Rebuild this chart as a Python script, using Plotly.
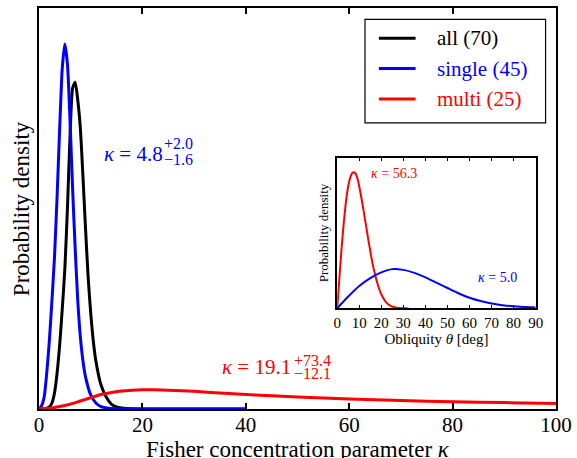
import plotly.graph_objects as go

# Posterior densities of the Fisher concentration parameter kappa
kappa_single = [0, 0.5, 1.0, 1.5, 2.0, 2.5, 3.0, 3.5, 4.0, 4.5, 5.0, 5.5, 6.0, 6.5, 7.0,
                7.5, 8.0, 8.5, 9.0, 10.0, 11.0, 12.0, 14.0, 20.0, 40.0]
dens_single = [0.0, 0.008, 0.03, 0.09, 0.17, 0.27, 0.38, 0.53, 0.70, 0.85, 0.91, 0.86,
               0.72, 0.55, 0.40, 0.27, 0.18, 0.12, 0.08, 0.035, 0.015, 0.006, 0.001, 0.0, 0.0]

kappa_all = [0, 1.0, 2.0, 2.5, 3.0, 3.5, 4.0, 4.5, 5.0, 5.5, 6.0, 6.5, 7.0, 7.5, 8.0, 8.5,
             9.0, 9.5, 10.0, 10.5, 11.0, 12.0, 13.0, 14.0, 15.0, 17.0, 20.0, 40.0]
dens_all = [0.0, 0.0, 0.005, 0.015, 0.04, 0.09, 0.16, 0.25, 0.35, 0.50, 0.68, 0.80, 0.815,
            0.77, 0.70, 0.58, 0.45, 0.33, 0.24, 0.17, 0.12, 0.06, 0.03, 0.012, 0.005, 0.001,
            0.0, 0.0]

kappa_multi = [0, 2, 4, 6, 8, 10, 12, 14, 16, 18, 20, 22, 25, 30, 35, 40, 50, 60, 70, 80, 90, 100]
dens_multi = [0.0, 0.002, 0.006, 0.012, 0.020, 0.028, 0.036, 0.041, 0.045, 0.047, 0.048,
              0.048, 0.047, 0.044, 0.040, 0.036, 0.030, 0.025, 0.021, 0.018, 0.016, 0.014]

# Obliquity distributions for the two median concentrations
theta_multi = [0, 1, 2, 3, 4, 5, 6, 7, 8, 9, 10, 11, 12, 13, 14, 15, 16, 17, 18, 19, 20,
               22, 24, 26, 28, 30, 32]
obl_multi = [0.0, 0.2, 0.40, 0.57, 0.71, 0.81, 0.87, 0.90, 0.90, 0.87, 0.81, 0.73, 0.645,
             0.555, 0.465, 0.38, 0.30, 0.235, 0.178, 0.13, 0.093, 0.043, 0.018, 0.007,
             0.002, 0.0005, 0.0]
theta_single = [0, 5, 10, 15, 20, 25, 30, 35, 40, 45, 50, 55, 60, 65, 70, 75, 80, 85, 90]
obl_single = [0.0, 0.078, 0.148, 0.20, 0.238, 0.26, 0.255, 0.235, 0.205, 0.17, 0.135, 0.10,
              0.07, 0.048, 0.032, 0.021, 0.013, 0.009, 0.006]

series_names = ["all (70)", "single (45)", "multi (25)"]
series_colors = ["black", "blue", "red"]

kappa_single_label = ("4.8", "+2.0", "\u22121.6")
kappa_multi_label = ("19.1", "+73.4", "\u221212.1")
inset_labels = ("56.3", "5.0")

SERIF = "Liberation Serif"

# plot area in pixels (used to place the legend box)
L, R, T, B = 38.5, 559.5, 5.5, 409.0


def px(xp):
    return (xp - L) / (R - L)


def py(yp):
    return (B - yp) / (B - T)


fig = go.Figure()

main_curves = [(kappa_all, dens_all), (kappa_single, dens_single), (kappa_multi, dens_multi)]
for (kx, ky), name, col in zip(main_curves, series_names, series_colors):
    fig.add_trace(go.Scatter(
        x=kx, y=ky, mode="lines", line=dict(color=col, width=3, shape="spline", smoothing=0.6),
        name=name, showlegend=False, xaxis="x", yaxis="y",
    ))

fig.add_trace(go.Scatter(x=theta_multi, y=obl_multi, mode="lines",
                         line=dict(color="red", width=2, shape="spline", smoothing=0.6),
                         showlegend=False, xaxis="x2", yaxis="y2"))
fig.add_trace(go.Scatter(x=theta_single, y=obl_single, mode="lines",
                         line=dict(color="blue", width=2, shape="spline", smoothing=0.6),
                         showlegend=False, xaxis="x2", yaxis="y2"))

annotations = []
shapes = []


def kappa_annotation(x, y, parts, color, size, script_size, dx_sup, dy_up, dy_lo):
    val, up, lo = parts
    annotations.append(dict(x=x, y=y, xref="x", yref="y", xanchor="left", yanchor="middle",
                            text=f"<i>\u03ba</i> = {val}", showarrow=False,
                            font=dict(family=SERIF, size=size, color=color)))
    annotations.append(dict(x=x + dx_sup, y=y + dy_up, xref="x", yref="y", xanchor="left",
                            yanchor="middle", text=up, showarrow=False,
                            font=dict(family=SERIF, size=script_size, color=color)))
    annotations.append(dict(x=x + dx_sup, y=y - dy_lo, xref="x", yref="y", xanchor="left",
                            yanchor="middle", text=lo, showarrow=False,
                            font=dict(family=SERIF, size=script_size, color=color)))


kappa_annotation(12.2, 0.637, kappa_single_label, "blue", 21, 16, 11.5, 0.024, 0.016)
kappa_annotation(35.0, 0.105, kappa_multi_label, "red", 21, 16, 14.0, 0.016, 0.017)

annotations.append(dict(x=14.5, y=0.895, xref="x2", yref="y2", xanchor="left", yanchor="middle",
                        text=f"<i>\u03ba</i> = {inset_labels[0]}", showarrow=False,
                        font=dict(family=SERIF, size=14, color="red")))
annotations.append(dict(x=63.0, y=0.202, xref="x2", yref="y2", xanchor="left", yanchor="middle",
                        text=f"<i>\u03ba</i> = {inset_labels[1]}", showarrow=False,
                        font=dict(family=SERIF, size=14, color="blue")))

# legend box
shapes.append(dict(type="rect", xref="paper", yref="paper", x0=px(367), x1=px(549),
                   y0=py(121), y1=py(17), line=dict(color="black", width=1.2),
                   fillcolor="white", layer="above"))
for i, (name, col) in enumerate(zip(series_names, series_colors)):
    row = 36 + 30.5 * i
    shapes.append(dict(type="line", xref="paper", yref="paper", x0=px(381), x1=px(418),
                       y0=py(row), y1=py(row), line=dict(color=col, width=3), layer="above"))
    annotations.append(dict(x=px(438), y=py(row), xref="paper", yref="paper", xanchor="left",
                            yanchor="middle", text=name, showarrow=False,
                            font=dict(family=SERIF, size=21, color=col)))

# axis titles
annotations.append(dict(x=0.5, y=py(450), xref="paper", yref="paper", xanchor="center",
                        yanchor="middle", showarrow=False,
                        text="Fisher concentration parameter <i>\u03ba</i>",
                        font=dict(family=SERIF, size=23, color="black")))
annotations.append(dict(x=px(21), y=0.50, xref="paper", yref="paper", xanchor="center",
                        yanchor="middle", showarrow=False, textangle=-90,
                        text="Probability density",
                        font=dict(family=SERIF, size=23, color="black")))

fig.update_layout(
    width=577, height=458,
    margin=dict(l=L, r=577 - R, t=T, b=458 - B, pad=0),
    paper_bgcolor="white", plot_bgcolor="white",
    font=dict(family=SERIF, size=21, color="black"),
    showlegend=False,
    xaxis=dict(range=[0, 100], tickvals=[0, 20, 40, 60, 80, 100], ticks="inside",
               ticklen=6, tickwidth=1.5, tickcolor="black", showline=True, linecolor="black",
               linewidth=2, mirror="allticks", showgrid=False, zeroline=False,
               tickfont=dict(family=SERIF, size=21), ticklabelstandoff=-4, domain=[0, 1]),
    yaxis=dict(range=[0, 1], showticklabels=False, ticks="", showline=True, linecolor="black",
               linewidth=2, mirror=True, showgrid=False, zeroline=False, domain=[0, 1]),
    xaxis2=dict(range=[0, 90], tickvals=list(range(0, 100, 10)), ticks="inside", ticklen=4,
                tickwidth=1, tickcolor="black", showline=True, linecolor="black", linewidth=1.5,
                mirror="allticks", showgrid=False, zeroline=False, anchor="y2",
                domain=[px(339), px(539)], tickfont=dict(family=SERIF, size=15),
                title=dict(text="Obliquity <i>\u03b8</i> [deg]", standoff=3,
                           font=dict(family=SERIF, size=15))),
    yaxis2=dict(range=[0, 1], showticklabels=False, ticks="", showline=True, linecolor="black",
                linewidth=1.5, mirror=True, showgrid=False, zeroline=False, anchor="x2",
                domain=[py(307.7), py(156)],
                title=dict(text="Probability density", standoff=4,
                           font=dict(family=SERIF, size=13))),
    annotations=annotations,
    shapes=shapes,
)

fig.write_html("out.html")
